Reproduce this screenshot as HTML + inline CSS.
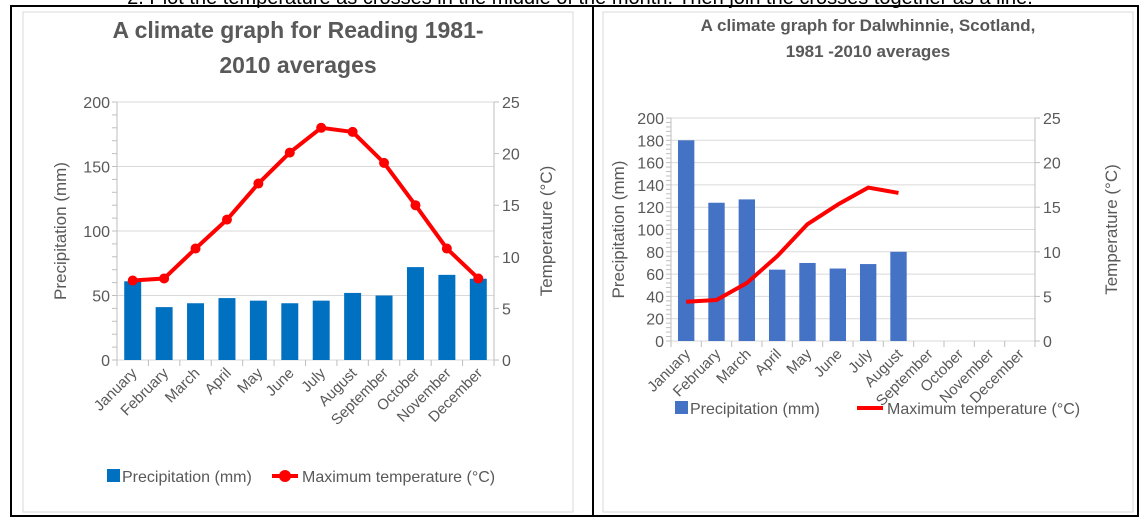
<!DOCTYPE html>
<html><head><meta charset="utf-8"><style>
body{margin:0;background:#fff;width:1143px;height:521px;overflow:hidden;font-family:"Liberation Sans",sans-serif}
svg text{font-family:"Liberation Sans",sans-serif}
</style></head><body>
<svg id="s" width="1143" height="521" xmlns="http://www.w3.org/2000/svg">
<text x="580" y="4" font-size="20" text-anchor="middle" fill="#000">2. Plot the temperature as crosses in the middle of the month. Then join the crosses together as a line.</text>
<rect x="11" y="6" width="1127" height="510" fill="none" stroke="#000" stroke-width="2"/>
<line x1="593" y1="6" x2="593" y2="516" stroke="#000" stroke-width="2"/>
<g id="g1"></g><g id="g2"></g>
</svg>
<script>
const months=["January","February","March","April","May","June","July","August","September","October","November","December"];
const readingPrecip=[61,41,44,48,46,44,46,52,50,72,66,63];
const readingTemp=[7.7,7.9,10.8,13.6,17.1,20.1,22.5,22.1,19.1,15.0,10.8,7.9];
const dalPrecip=[180,124,127,64,70,65,69,80];
const dalTemp=[4.4,4.6,6.5,9.5,13.1,15.3,17.2,16.6];
const leftTicksR=[0,50,100,150,200];
const leftTicksD=[0,20,40,60,80,100,120,140,160,180,200];
const rightTicks=[0,5,10,15,20,25];
const NS="http://www.w3.org/2000/svg";
function mk(p,t,a,txt){const e=document.createElementNS(NS,t);for(const k in a)e.setAttribute(k,a[k]);if(txt!==undefined)e.textContent=txt;p.appendChild(e);return e;}
function chart(g,o){
 const x0=o.x0,x1=o.x1,yT=o.yT,yB=o.yB,step=(x1-x0)/12;
 const xs=i=>x0+step*(i+0.5);
 const yp=v=>yB-(v/200)*(yB-yT);
 const yt=v=>yB-(v/25)*(yB-yT);
 const fr=mk(g,'rect',{x:o.fx,y:o.fy,width:o.fw,height:o.fh,fill:'#fff',stroke:'#d9d9d9'});
 
 o.title.forEach((t,i)=>{const e=mk(g,'text',{x:(o.fx+o.fx+o.fw)/2,y:o.ty+i*o.tl,'font-size':o.ts,'font-weight':'bold','text-anchor':'middle',fill:'#595959'},t);
  });
 o.lt.forEach(v=>{const e=mk(g,'line',{x1:x0,x2:x1,y1:yp(v),y2:yp(v),stroke:'#d9d9d9'});
  const t=mk(g,'text',{x:x0-7,y:yp(v)+6,'font-size':o.fs,'text-anchor':'end',fill:'#595959'},v);});
 for(let v=0;v<=200;v+=o.minor){mk(g,'line',{x1:x0-5,x2:x0,y1:yp(v),y2:yp(v),stroke:'#bfbfbf'});}
 rightTicks.forEach(v=>{mk(g,'line',{x1:x1,x2:x1+5,y1:yt(v),y2:yt(v),stroke:'#bfbfbf'});
  const t=mk(g,'text',{x:x1+8,y:yt(v)+6,'font-size':o.fs,fill:'#595959'},v);});
 mk(g,'line',{x1:x0,x2:x0,y1:yT,y2:yB,stroke:'#bfbfbf'});mk(g,'line',{x1:x1,x2:x1,y1:yT,y2:yB,stroke:'#bfbfbf'});
 for(let i=0;i<=12;i++)mk(g,'line',{x1:x0+step*i,x2:x0+step*i,y1:yB,y2:yB+6,stroke:'#bfbfbf'});
 o.p.forEach((v,i)=>{const b=mk(g,'rect',{x:xs(i)-step*0.27,y:yp(v),width:step*0.54,height:yB-yp(v),fill:o.bc});
  });
 const l=mk(g,'polyline',{points:o.t.map((v,i)=>xs(i)+','+yt(v)).join(' '),fill:'none',stroke:'#f00','stroke-width':4,'stroke-linejoin':'round'});
 
 if(o.markers)o.t.forEach((v,i)=>{const c=mk(g,'circle',{cx:xs(i),cy:yt(v),r:5,fill:'#f00'});});
 months.forEach((m,i)=>{const t=mk(g,'text',{x:xs(i)+5,y:yB+14,'font-size':o.xs,'text-anchor':'end',fill:'#595959',transform:`rotate(-45 ${xs(i)+5} ${yB+14})`},m);
  });
 const cy=(yT+yB)/2;
 const a=mk(g,'text',{x:o.ax,y:cy,'font-size':o.fs+1,'text-anchor':'middle',fill:'#595959',transform:`rotate(-90 ${o.ax} ${cy})`},'Precipitation (mm)');
 const b=mk(g,'text',{x:o.ax2,y:cy,'font-size':o.fs+1,'text-anchor':'middle',fill:'#595959',transform:`rotate(-90 ${o.ax2} ${cy})`},'Temperature (°C)');
 const lg=mk(g,'g',{});
 mk(lg,'rect',{x:o.lx,y:o.ly-13,width:13,height:13,fill:o.bc});
 mk(lg,'text',{x:o.lx+15,y:o.ly,'font-size':o.fs,fill:'#595959'},'Precipitation (mm)');
 mk(lg,'line',{x1:o.lx2,x2:o.lx2+26,y1:o.ly-6,y2:o.ly-6,stroke:'#f00','stroke-width':4});
 if(o.markers)mk(lg,'circle',{cx:o.lx2+13,cy:o.ly-6,r:6,fill:'#f00'});
 mk(lg,'text',{x:o.lx2+30,y:o.ly,'font-size':o.fs,fill:'#595959'},'Maximum temperature (°C)');
}
chart(document.getElementById('g1'),{x0:117,x1:494,yT:102,yB:360,p:readingPrecip,t:readingTemp,lt:leftTicksR,minor:10,bc:'#0070c0',markers:true,
 fx:23,fy:12,fw:550,fh:500,title:['A climate graph for Reading 1981-','2010 averages'],ty:38,tl:35,ts:23,fs:16,xs:15,ax:66,ax2:552,lx:107,lx2:272,ly:482});
chart(document.getElementById('g2'),{x0:671,x1:1035,yT:118,yB:341,p:dalPrecip,t:dalTemp,lt:leftTicksD,minor:4,bc:'#4472c4',markers:false,
 fx:603,fy:12,fw:530,fh:500,title:['A climate graph for Dalwhinnie, Scotland,','1981 -2010 averages'],ty:31,tl:26,ts:17,fs:16,xs:15,ax:624,ax2:1117,lx:675,lx2:857,ly:414});
</script>
</body></html>
